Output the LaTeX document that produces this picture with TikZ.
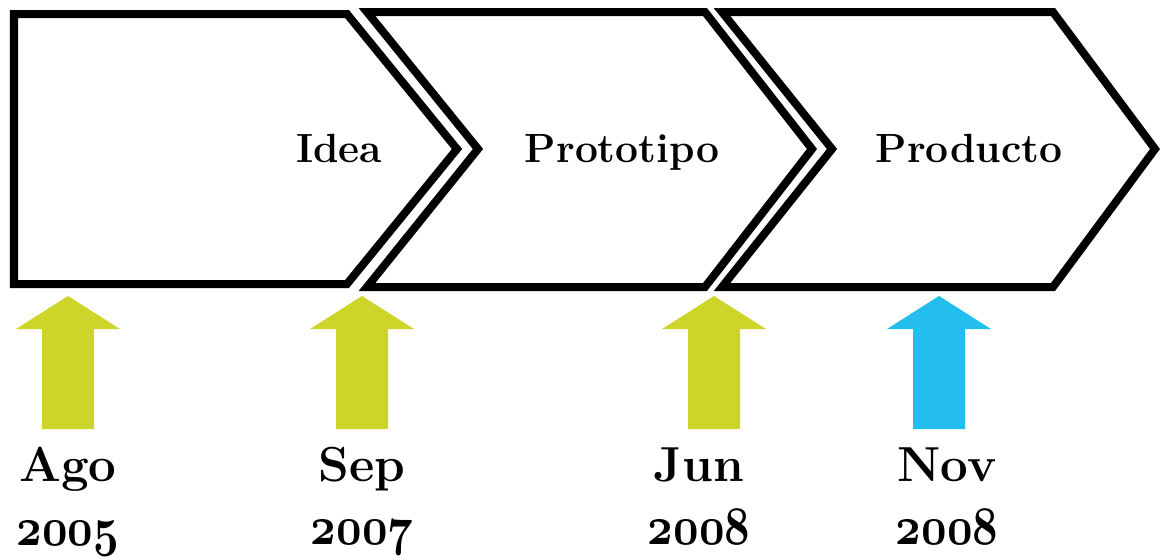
\documentclass[tikz,border=0pt]{standalone}
\usetikzlibrary{calc}
\definecolor{verde}{RGB}{205,213,42}
\definecolor{celeste}{RGB}{35,190,237}
\tikzset{
    etapa/.style = {draw, line width=0.2cm, miter limit=10},
    rotulo/.style = {font=\fontsize{29}{34}\selectfont\bfseries, anchor=base},
    fecha/.style = {font=\fontsize{35}{45}\selectfont\bfseries, align=center, anchor=north, inner sep=0pt}
}
% anio con cifras antiguas en negrita
\newcommand{\anio}[1]{\scalebox{1.27}[1.55]{\fontsize{24.88}{30}\usefont{OML}{cmm}{b}{it}#1}}
% flecha gruesa hacia arriba: centro x, color
\newcommand{\flecha}[2]{
    \fill[#2] (#1-52,329) -- (#1,296) -- (#1+52,329) -- (#1+26,329)
        -- (#1+26,429) -- (#1-26,429) -- (#1-26,329) -- cycle;}

\begin{document}
\begin{tikzpicture}[x=0.025cm, y=-0.025cm]
                \useasboundingbox (0,0) rectangle (1160,560);
                % etapas
                \draw[etapa] (14,14) -- (347,14) -- (457,149) -- (347,284) -- (14,284) -- cycle;
                \draw[etapa] (367,12) -- (705,12) -- (812,149) -- (705,287) -- (367,287) -- (478,149) -- cycle;
                \draw[etapa] (722,12) -- (1053,12) -- (1155,149) -- (1053,287) -- (722,287) -- (832,149) -- cycle;
                \node[rotulo] (idea) at (339,162) {Idea};
                \node[rotulo] (proto) at (622,162) {Prototipo};
                \node[rotulo] (prod) at (969,162) {Producto};
                % hitos
                \flecha{68}{verde}
                \flecha{362}{verde}
                \flecha{714}{verde}
                \flecha{939}{celeste}
                \node[fecha] (ago) at (68,447) {Ago\\\anio{2005}};
                \node[fecha] (sep) at (362,447) {Sep\\\anio{2007}};
                \node[fecha] (jun) at (699,447) {Jun\\\anio{2008}};
                \node[fecha] (nov) at (947,447) {Nov\\\anio{2008}};
            \end{tikzpicture}
\end{document}
